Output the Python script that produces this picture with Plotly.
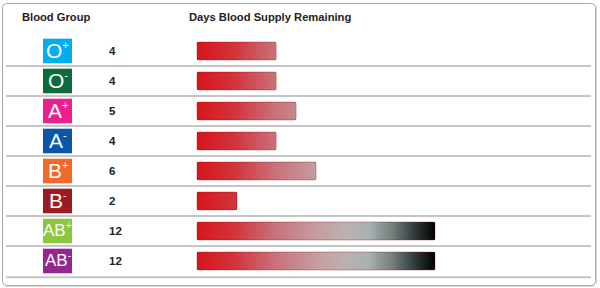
import plotly.graph_objects as go

# ---- data ----
groups = ["O+", "O-", "A+", "A-", "B+", "B-", "AB+", "AB-"]
days = [4, 4, 5, 4, 6, 2, 12, 12]
icon_colors = ["#00aeef", "#0a6b3b", "#ec1f8e", "#0a56a8", "#f2692a", "#9b1b20", "#8cc63f", "#93278f"]
header_left = "Blood Group"
header_right = "Days Blood Supply Remaining"
max_days = 12

W, H = 600, 288
FONT = "Liberation Sans, Arial, sans-serif"

# pixel layout helpers
bar_x0_px, px_per_day = 197.0, 238.0 / 12
row0_px, row_h = 51.0, 30.0

x_lo = -bar_x0_px / px_per_day
x_hi = x_lo + W / px_per_day
y_top = -row0_px / row_h
y_bot = (H - row0_px) / row_h

def px(x):
    return x / W

def py(y):
    return 1 - y / H

# gradient cells
step = 0.05
ncell = int(round(max_days / step))
xs = [step * (i + 0.5) for i in range(ncell)]
z = [[(x if x < d else None) for x in xs] for d in days]

colorscale = [
    [0.0, "#d7141c"],
    [0.15, "#d3323a"],
    [0.33, "#c9717a"],
    [0.5, "#c59ca0"],
    [0.62, "#bdb0b1"],
    [0.72, "#a9b1b1"],
    [0.82, "#75807f"],
    [0.9, "#3a4546"],
    [1.0, "#000000"],
]

fig = go.Figure()
fig.add_trace(go.Heatmap(
    x=xs, y=groups, z=z, zmin=0, zmax=max_days, colorscale=colorscale,
    showscale=False, ygap=12, xgap=0, hoverinfo="skip",
))
fig.add_trace(go.Bar(
    x=days, y=groups, base=0, orientation="h", width=0.6,
    marker=dict(color="rgba(0,0,0,0)", line=dict(color="rgba(140,20,20,0.35)", width=1)),
    hoverinfo="skip",
))

shapes = []
annotations = []

# outer rounded border
r_x, r_y = 4 / W, 4 / H
L, R, T, B = px(2.5), px(595.5), py(3.5), py(285.5)
path = (f"M {L+r_x},{T} L {R-r_x},{T} Q {R},{T} {R},{T-r_y} L {R},{B+r_y} "
        f"Q {R},{B} {R-r_x},{B} L {L+r_x},{B} Q {L},{B} {L},{B+r_y} L {L},{T-r_y} Q {L},{T} {L+r_x},{T} Z")
shapes.append(dict(type="path", xref="paper", yref="paper", path=path,
                   line=dict(color="#a8a8a8", width=1)))
# subtle shadow on right/bottom
shapes.append(dict(type="line", xref="paper", yref="paper", x0=px(596.5), x1=px(596.5),
                   y0=py(6), y1=py(284), line=dict(color="#d8d8d8", width=1)))
shapes.append(dict(type="line", xref="paper", yref="paper", x0=px(6), x1=px(594),
                   y0=py(286.5), y1=py(286.5), line=dict(color="#d8d8d8", width=1)))

# row dividers
for k in range(len(groups)):
    last = k == len(groups) - 1
    shapes.append(dict(type="line", xref="paper", yref="y", x0=px(6), x1=px(591),
                       y0=k + 0.5 + (0.04 if last else 0), y1=k + 0.5 + (0.04 if last else 0),
                       line=dict(color="#c4c4c4" if last else "#8c8c8c", width=2 if last else 1)))

# icons
for g, c, d in zip(groups, icon_colors, days):
    shapes.append(dict(type="rect", xref="paper", yref="y", x0=px(43), x1=px(72),
                       y0=groups.index(g) - 0.41, y1=groups.index(g) + 0.41,
                       fillcolor=c, line=dict(width=0)))
    base, sign = g[:-1], g[-1]
    size = 17 if len(base) > 1 else 21
    ssize = 10 if len(base) > 1 else 11
    annotations.append(dict(xref="paper", yref="y", x=px(57.5), y=g, yshift=1,
                            text=f"{base}<sup><span style='font-size:{ssize}px'>{sign}</span></sup>",
                            showarrow=False,
                            font=dict(family=FONT, size=size, color="white"),
                            xanchor="center", yanchor="middle"))
    annotations.append(dict(xref="paper", yref="y", x=px(106.5), y=g,
                            text=f"<b>{d}</b>", showarrow=False,
                            font=dict(family=FONT, size=11.5, color="#222222"),
                            xanchor="left", yanchor="middle"))

# headers
annotations.append(dict(xref="paper", yref="paper", x=px(19.5), y=py(17.5), text=f"<b>{header_left}</b>",
                        showarrow=False, font=dict(family=FONT, size=11.2, color="#222222"),
                        xanchor="left", yanchor="middle"))
annotations.append(dict(xref="paper", yref="paper", x=px(186.5), y=py(17.5), text=f"<b>{header_right}</b>",
                        showarrow=False, font=dict(family=FONT, size=11.2, color="#222222"),
                        xanchor="left", yanchor="middle"))

fig.update_layout(
    width=W, height=H, margin=dict(l=0, r=0, t=0, b=0),
    paper_bgcolor="white", plot_bgcolor="white",
    showlegend=False, barcornerradius=2,
    xaxis=dict(range=[x_lo, x_hi], visible=False, fixedrange=True),
    yaxis=dict(type="category", categoryarray=groups, range=[y_bot, y_top],
               visible=False, fixedrange=True),
    shapes=shapes, annotations=annotations,
)

fig.write_html("out.html", config={"displayModeBar": False})
